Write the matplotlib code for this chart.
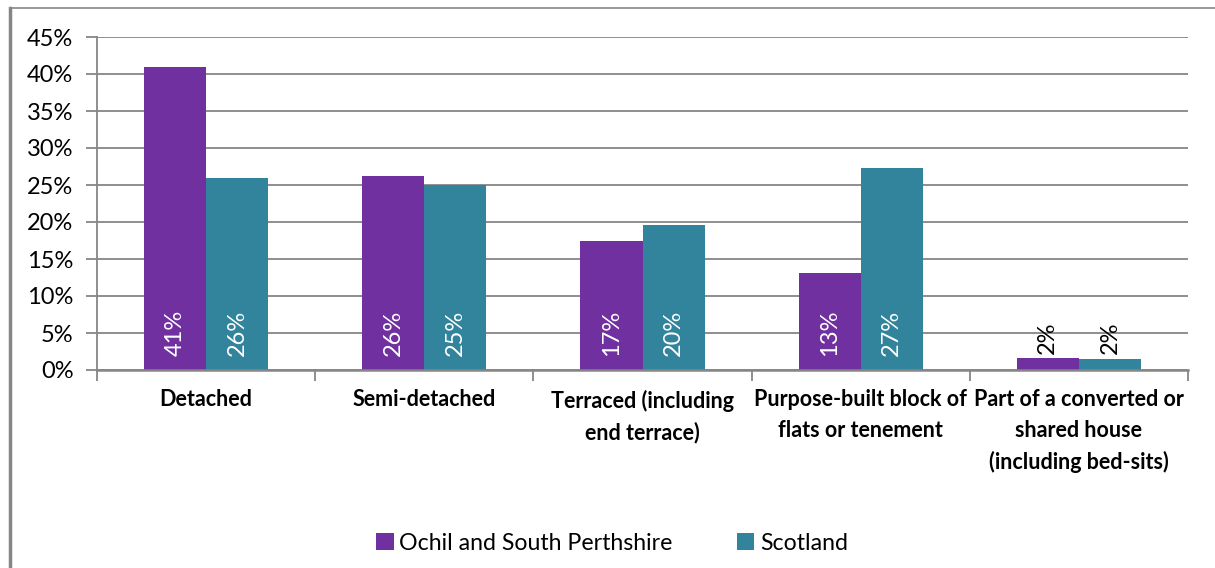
import numpy as np
import matplotlib.pyplot as plt
from matplotlib.lines import Line2D

# Datos
categorias = ['Detached', 'Semi-detached', 'Terraced (including\nend terrace)',
              'Purpose-built block of\nflats or tenement',
              'Part of a converted or\nshared house\n(including bed-sits)']
ochil = [40.9, 26.2, 17.5, 13.1, 1.6]
scotland = [26.0, 25.0, 19.6, 27.3, 1.5]
etiq_ochil = ['41%', '26%', '17%', '13%', '2%']
etiq_scot = ['26%', '25%', '20%', '27%', '2%']
series = ['Ochil and South Perthshire', 'Scotland']
colores = ['#7030A0', '#31849B']

plt.rcParams['font.family'] = ['Lato', 'DejaVu Sans']

fig = plt.figure(figsize=(12.15, 5.68), dpi=100)
W, H = 1215, 568
ax = fig.add_axes([97 / W, 1 - 370 / H, (1188 - 97) / W, (370 - 37) / H])

x = np.arange(len(categorias))
ancho = 0.285
gris = '#868686'

ax.set_axisbelow(True)
ax.yaxis.grid(True, color=gris, linewidth=1.3)
b1 = ax.bar(x - ancho / 2, ochil, ancho, color=colores[0], label=series[0])
b2 = ax.bar(x + ancho / 2, scotland, ancho, color=colores[1], label=series[1])

# Etiquetas de datos
for barras, etiq in [(b1, etiq_ochil), (b2, etiq_scot)]:
    for b, t in zip(barras, etiq):
        cx = b.get_x() + b.get_width() / 2
        h = b.get_height()
        if h > 5:
            ax.text(cx, 1.9, t, rotation=90, ha='center', va='bottom',
                    color='white', fontsize=17)
        else:
            ax.text(cx, h + 0.6, t, rotation=90, ha='center', va='bottom',
                    color='black', fontsize=17)

ax.set_xlim(-0.5, len(categorias) - 0.5)
ax.set_ylim(0, 45)
ax.set_yticks(np.arange(0, 46, 5))
ax.set_yticklabels([f'{v}%' for v in range(0, 46, 5)], fontsize=17)
ax.set_xticks(x)
ax.set_xticklabels(categorias, fontsize=15.5, fontweight='bold', linespacing=1.55)
ax.set_xticks(np.arange(-0.5, len(categorias)), minor=True)
ax.tick_params(axis='x', which='major', length=0, pad=14)
ax.tick_params(axis='x', which='minor', length=8, color=gris, width=1.3)
ax.tick_params(axis='y', length=8, color=gris, width=1.3, pad=9)

for s in ['top', 'right']:
    ax.spines[s].set_visible(False)
ax.spines['left'].set_color(gris)
ax.spines['bottom'].set_color(gris)
ax.spines['left'].set_linewidth(1.3)
ax.spines['bottom'].set_linewidth(1.8)

# Leyenda
ax.legend(loc='center', bbox_to_anchor=(0.472, -0.521), ncol=2, frameon=False,
          fontsize=16.7, handlelength=0.75, handleheight=0.75, handletextpad=0.25,
          columnspacing=2.75)

# Marco exterior (solo izquierda y arriba)
fig.add_artist(Line2D([10 / W, 10 / W], [0, 1 - 8 / H], color=gris, linewidth=2.5,
                      transform=fig.transFigure))
fig.add_artist(Line2D([10 / W, 1], [1 - 8 / H, 1 - 8 / H], color=gris, linewidth=1.2,
                      transform=fig.transFigure))

fig.savefig('out.png', dpi=100)
